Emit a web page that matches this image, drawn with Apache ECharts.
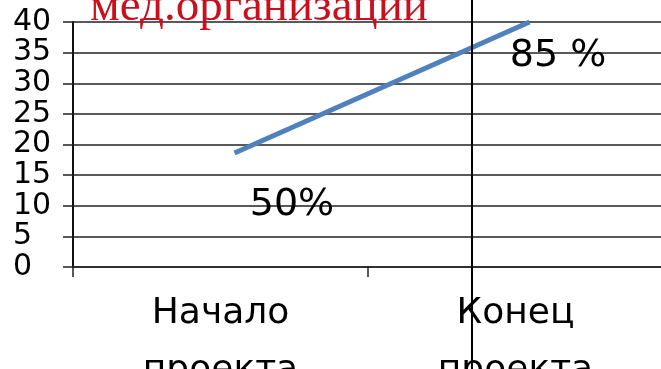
<!DOCTYPE html>
<html>
<head>
<meta charset="utf-8">
<script src="https://cdn.jsdelivr.net/npm/echarts@6/dist/echarts.min.js"></script>
<style>
  html, body { margin: 0; padding: 0; background: #fff; }
  #chart { width: 661px; height: 369px; }
</style>
</head>
<body>
<div id="chart"></div>
<script>
// Project stages and the indicator measured at each
const categories = ['Начало\nпроекта', 'Конец\nпроекта'];
const values = [18.6, 40];
const yTicks = [0, 5, 10, 15, 20, 25, 30, 35, 40];
const annotations = ['50%', '85 %'];
const heading = 'мед.организации';

const chart = echarts.init(document.getElementById('chart'), null, { renderer: 'canvas' });

const sans = 'DejaVu Sans';
const ink = '#000';

chart.setOption({
  animation: false,
  backgroundColor: '#fff',
  grid: [
    { left: 73, top: 22, width: 590, height: 245, outerBoundsMode: 'none', containLabel: false },
    { left: 87, top: 22, width: 590, height: 245, outerBoundsMode: 'none', containLabel: false }
  ],
  xAxis: [
    {
      type: 'category',
      gridIndex: 0,
      data: categories,
      boundaryGap: true,
      axisLine: { lineStyle: { color: '#222', width: 1.5 } },
      axisTick: { show: true, length: 10, lineStyle: { color: '#222', width: 1.5 } },
      axisLabel: {
        color: ink, fontFamily: sans, fontSize: 36, lineHeight: 57, margin: 18,
        hideOverlap: false
      }
    },
    {
      type: 'category', gridIndex: 1, data: categories, boundaryGap: true, show: false
    }
  ],
  yAxis: [
    {
      type: 'value',
      gridIndex: 0,
      min: yTicks[0],
      max: yTicks[yTicks.length - 1],
      interval: yTicks[1] - yTicks[0],
      axisLine: { show: true, lineStyle: { color: '#111', width: 2 } },
      axisTick: { show: true, length: 10, lineStyle: { color: '#222', width: 1.5 } },
      splitLine: { show: true, lineStyle: { color: '#222', width: 1.5 } },
      axisLabel: {
        color: ink, fontFamily: sans, fontSize: 30, lineHeight: 30, align: 'left', margin: 60,
        showMinLabel: true, showMaxLabel: true, hideOverlap: false
      }
    },
    {
      type: 'value', gridIndex: 1, min: yTicks[0], max: yTicks[yTicks.length - 1], show: false
    }
  ],
  series: [
    {
      type: 'line',
      xAxisIndex: 1,
      yAxisIndex: 1,
      data: values,
      symbol: 'none',
      lineStyle: { color: '#4F81BD', width: 5 }
    }
  ],
  graphic: [
    {
      type: 'line',
      shape: { x1: 472, y1: 0, x2: 472, y2: 369 },
      style: { stroke: '#000', lineWidth: 2 },
      z: 10
    },
    {
      type: 'text',
      x: 90, y: -16,
      style: {
        text: heading,
        font: '47px "Liberation Serif"',
        fill: '#C8101E',
        verticalAlign: 'top'
      },
      z: 10
    },
    {
      type: 'text',
      x: 292, y: 205,
      style: {
        text: annotations[0],
        font: '38px "DejaVu Sans"',
        fill: ink,
        align: 'center',
        verticalAlign: 'middle'
      },
      z: 10
    },
    {
      type: 'text',
      x: 558, y: 56,
      style: {
        text: annotations[1],
        font: '38px "DejaVu Sans"',
        fill: ink,
        align: 'center',
        verticalAlign: 'middle'
      },
      z: 10
    }
  ]
});
</script>
</body>
</html>
